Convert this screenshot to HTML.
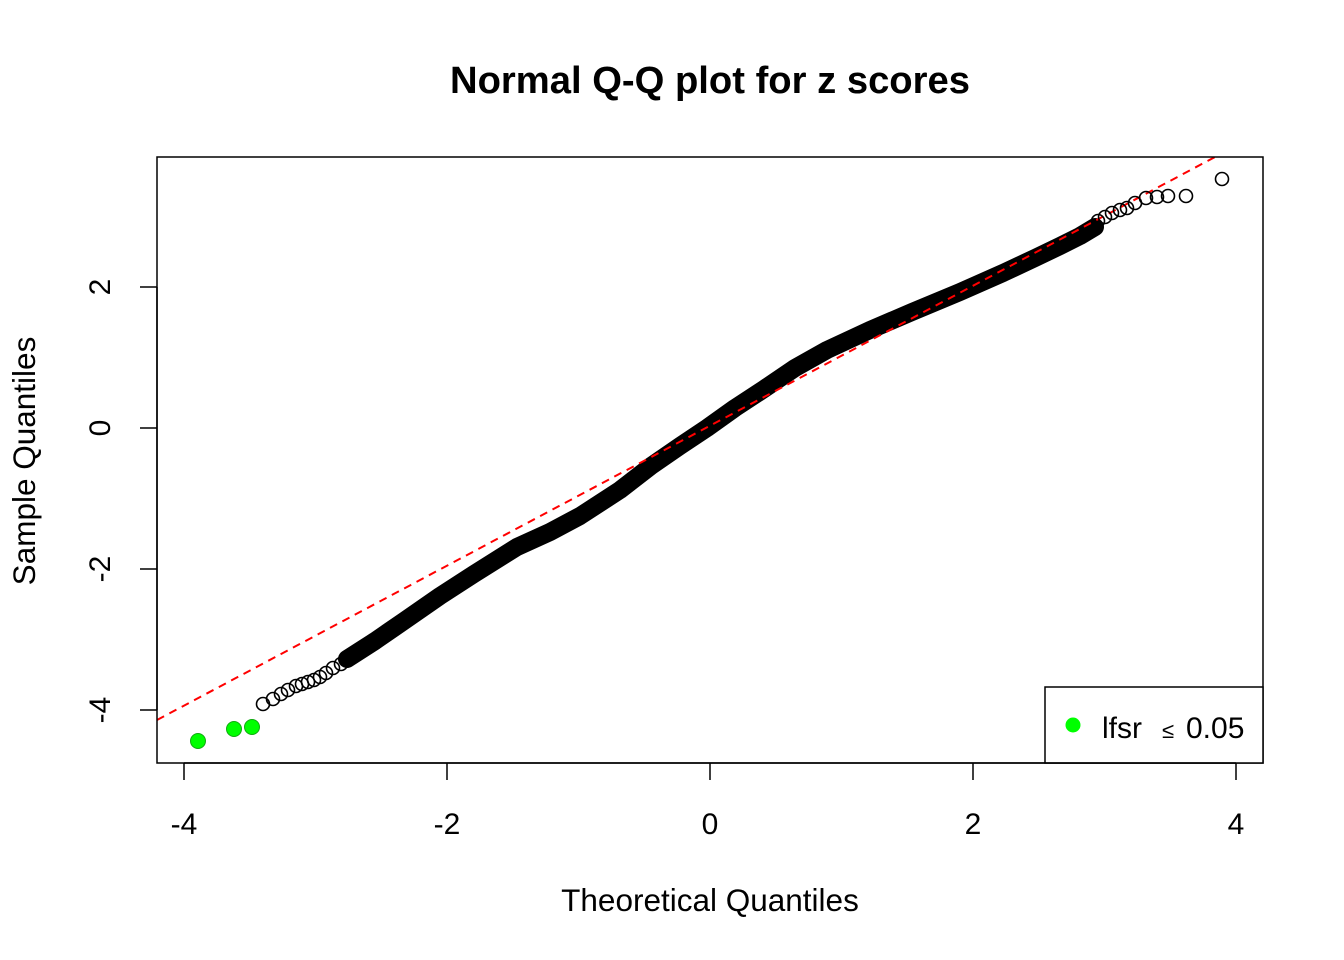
<!DOCTYPE html>
<html><head><meta charset="utf-8"><style>body{margin:0;background:#fff}svg{display:block}text{font-family:"Liberation Sans",Arial,sans-serif}</style></head>
<body>
<svg width="1344" height="960" viewBox="0 0 1344 960" xmlns="http://www.w3.org/2000/svg">
<text x="710" y="93" font-size="38" font-weight="bold" text-anchor="middle" textLength="520" lengthAdjust="spacingAndGlyphs">Normal Q-Q plot for z scores</text>
<defs><clipPath id="c"><rect x="157" y="157" width="1106" height="606"/></clipPath></defs>
<g clip-path="url(#c)">
<path d="M347,659 L375,641 L404,621 L440,596 L474,574 L517,547 L550,532 L580,516 L620,490 L651,466 L680,446 L707,428 L735,408 L764,389 L795,368 L827,350 L870,330 L912,312 L960,292 L1003,273 L1035,258 L1060,246 L1080,236 L1095,227" fill="none" stroke="#000" stroke-width="18" stroke-linecap="round" stroke-linejoin="round"/>
<line x1="157" y1="720" x2="1215" y2="157" stroke="#f00" stroke-width="2" stroke-dasharray="8,6"/>
<g fill="none" stroke="#000" stroke-width="1.6">
<circle cx="263" cy="704" r="6.5"/><circle cx="273" cy="699" r="6.5"/><circle cx="281" cy="694" r="6.5"/><circle cx="288" cy="690" r="6.5"/><circle cx="296" cy="686" r="6.5"/><circle cx="302" cy="684" r="6.5"/><circle cx="308" cy="682" r="6.5"/><circle cx="314" cy="680" r="6.5"/><circle cx="320" cy="677" r="6.5"/><circle cx="326" cy="673" r="6.5"/><circle cx="333" cy="668" r="6.5"/><circle cx="341" cy="664" r="6.5"/>
<circle cx="1098" cy="221" r="6.5"/><circle cx="1105" cy="217" r="6.5"/><circle cx="1112" cy="213" r="6.5"/><circle cx="1120" cy="210" r="6.5"/><circle cx="1127" cy="208" r="6.5"/><circle cx="1135" cy="203" r="6.5"/><circle cx="1146" cy="198" r="6.5"/><circle cx="1157" cy="197" r="6.5"/><circle cx="1168" cy="196" r="6.5"/><circle cx="1186" cy="196" r="6.5"/><circle cx="1222" cy="179" r="6.5"/>
</g>
<g fill="#0f0" stroke="#1a1" stroke-width="1"><circle cx="198" cy="741" r="7.5"/><circle cx="234" cy="729" r="7.5"/><circle cx="252" cy="727" r="7.5"/></g>
</g>
<rect x="157" y="157" width="1106" height="606" fill="none" stroke="#000" stroke-width="1.5"/>
<rect x="1045" y="687" width="218" height="76" fill="#fff" stroke="#000" stroke-width="1.5"/>
<circle cx="1073" cy="725" r="7.5" fill="#0f0"/>
<text x="1102" y="738" font-size="30">lfsr</text>
<text x="1162" y="738" font-size="22">≤</text>
<text x="1186" y="738" font-size="30">0.05</text>
<g stroke="#000" stroke-width="1.5">
<line x1="184" y1="763" x2="1236" y2="763"/>
<line x1="184" y1="763" x2="184" y2="780"/><line x1="447" y1="763" x2="447" y2="780"/><line x1="710" y1="763" x2="710" y2="780"/><line x1="973" y1="763" x2="973" y2="780"/><line x1="1236" y1="763" x2="1236" y2="780"/>
<line x1="157" y1="287" x2="157" y2="710"/>
<line x1="140" y1="287" x2="157" y2="287"/><line x1="140" y1="428" x2="157" y2="428"/><line x1="140" y1="569" x2="157" y2="569"/><line x1="140" y1="710" x2="157" y2="710"/>
</g>
<g font-size="30" text-anchor="middle">
<text x="184" y="834">-4</text><text x="447" y="834">-2</text><text x="710" y="834">0</text><text x="973" y="834">2</text><text x="1236" y="834">4</text>
<text transform="translate(110,287) rotate(-90)">2</text>
<text transform="translate(110,428) rotate(-90)">0</text>
<text transform="translate(110,569) rotate(-90)">-2</text>
<text transform="translate(110,710) rotate(-90)">-4</text>
</g>
<g font-size="31.5" text-anchor="middle">
<text x="710" y="911">Theoretical Quantiles</text>
<text transform="translate(35,461) rotate(-90)">Sample Quantiles</text>
</g>
</svg>
</body></html>
